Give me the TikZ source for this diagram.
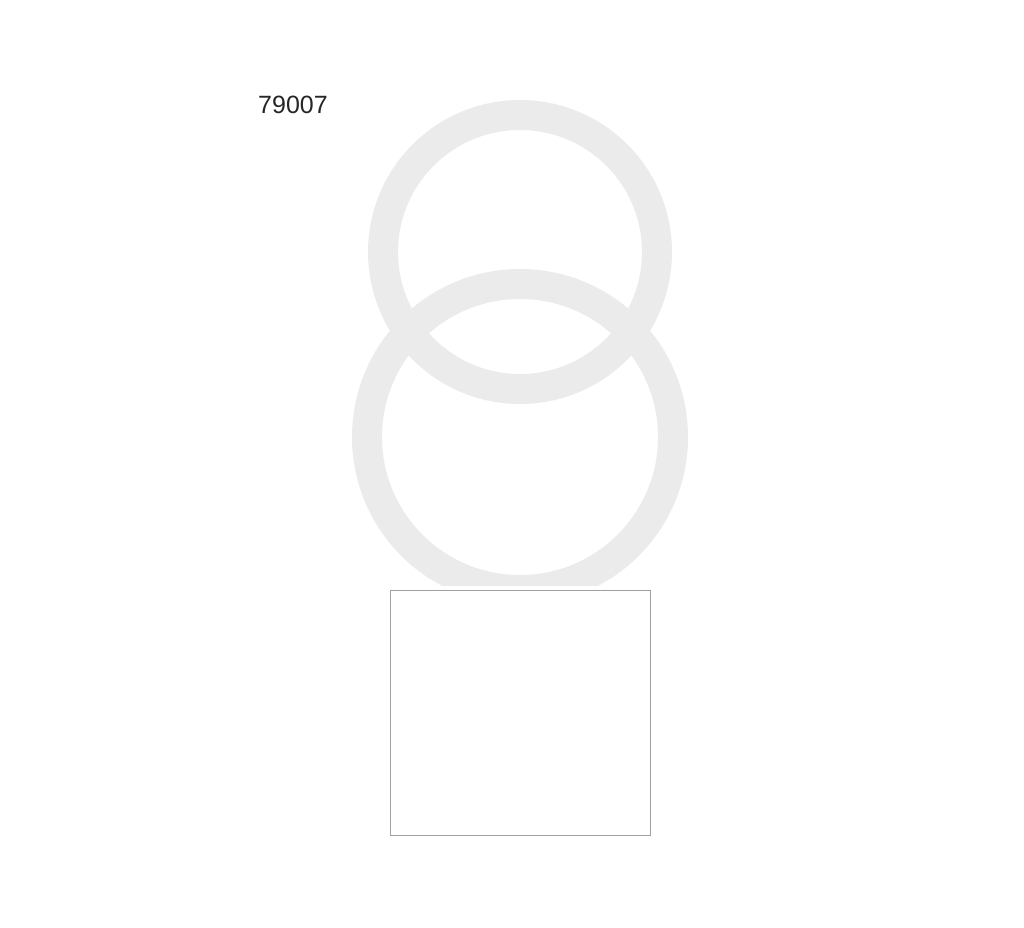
\documentclass[tikz,border=0pt]{standalone}
\usepackage{fontspec}
\setmainfont{Liberation Sans}
\usetikzlibrary{positioning}
\definecolor{ringgray}{HTML}{EBEBEB}
\definecolor{boxgray}{HTML}{A0A0A0}

\begin{document}
\begin{tikzpicture}[x=1pt,y=-1pt,ring node/.style={circle,draw=ringgray,line width=30pt,inner sep=0pt},box node/.style={rectangle,draw=boxgray,fill=white,line width=1pt,minimum width=260pt,minimum height=245pt,inner sep=0pt}]
\useasboundingbox (0,0) rectangle (1024,927);
\node[ring node,minimum size=274pt] (top) at (520,252) {};
\node[ring node,minimum size=306pt] (bottom) at (520,437) {};
\fill[white] (384,586) rectangle (656,840);
\node[box node] (box) at (520,712.5) {};
\node[font=\fontsize{25}{28}\selectfont,text=black!85] (label) at (293,105) {79007};
\end{tikzpicture}
\end{document}
